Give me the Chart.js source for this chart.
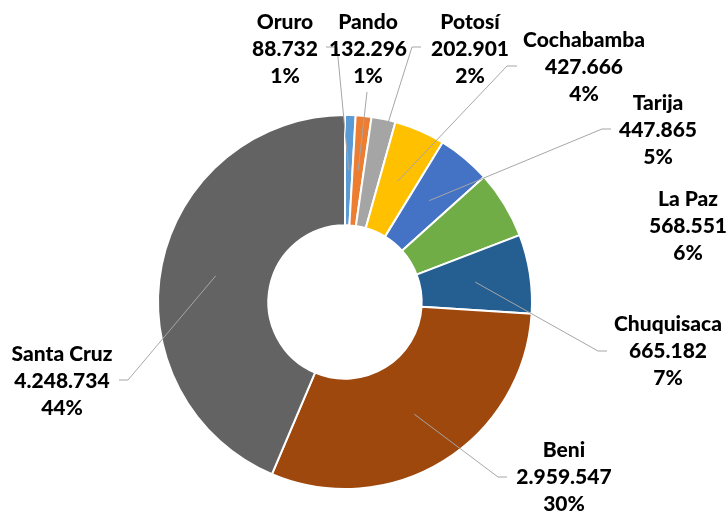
<!DOCTYPE html>
<html>
<head>
<meta charset="utf-8">
<script src="https://cdn.jsdelivr.net/npm/chart.js@4"></script>
<style>
    html, body { margin: 0; padding: 0; background: #ffffff; }
    canvas { display: block; }
</style>
</head>
<body>
<canvas id="chart" width="728" height="512"></canvas>
<script>
const departments = ['Oruro', 'Pando', 'Potosí', 'Cochabamba', 'Tarija', 'La Paz', 'Chuquisaca', 'Beni', 'Santa Cruz'];
const population = [88732, 132296, 202901, 427666, 447865, 568551, 665182, 2959547, 4248734];
const sliceColors = ['#5B9BD5', '#ED7D31', '#A5A5A5', '#FFC000', '#4472C4', '#70AD47', '#255E91', '#9E480E', '#636363'];

// where each label sits: text centre x, first line y, leader elbow (x, y, end x) or null
const labelPlaces = [
    {x: 285, y: 22, elbow: [337, 47, 326]},
    {x: 368, y: 22, elbow: [367, 92, 367]},
    {x: 470, y: 22, elbow: [412, 47, 421]},
    {x: 584, y: 40, elbow: [507, 66, 517]},
    {x: 658, y: 103, elbow: [602, 129, 611]},
    {x: 688, y: 199, elbow: null},
    {x: 668, y: 324, elbow: [598, 351, 607]},
    {x: 564, y: 450, elbow: [498, 477, 507]},
    {x: 62, y: 354, elbow: [128, 380, 119]},
];

function formatNumber(n) {
    return String(n).replace(/\B(?=(\d{3})+(?!\d))/g, '.');
}

const labelPlugin = {
    id: 'sliceLabels',
    afterDatasetsDraw(chart) {
        const ctx = chart.ctx;
        const meta = chart.getDatasetMeta(0);
        const total = population.reduce((a, b) => a + b, 0);
        ctx.save();
        meta.data.forEach((arc, i) => {
            const place = labelPlaces[i];
            if (place.elbow) {
                const p = arc.getCenterPoint();
                ctx.strokeStyle = '#A6A6A6';
                ctx.lineWidth = 1;
                ctx.beginPath();
                ctx.moveTo(p.x, p.y);
                ctx.lineTo(place.elbow[0], place.elbow[1]);
                ctx.lineTo(place.elbow[2], place.elbow[1]);
                ctx.stroke();
            }
        });
        ctx.fillStyle = '#000000';
        ctx.font = '900 21px Lato';
        ctx.textAlign = 'center';
        ctx.textBaseline = 'middle';
        meta.data.forEach((arc, i) => {
            const place = labelPlaces[i];
            const pct = Math.round(population[i] / total * 100) + '%';
            const lines = [departments[i], formatNumber(population[i]), pct];
            lines.forEach((t, k) => ctx.fillText(t, place.x, place.y + k * 27));
        });
        ctx.restore();
    }
};

new Chart(document.getElementById('chart'), {
    type: 'doughnut',
    data: {
        labels: departments,
        datasets: [{
            data: population,
            backgroundColor: sliceColors,
            borderColor: '#ffffff',
            borderWidth: 2,
            hoverOffset: 0,
        }],
    },
    options: {
        responsive: false,
        animation: false,
        cutout: '41%',
        layout: {
            padding: {top: 114, bottom: 22, left: 157, right: 195},
        },
        plugins: {
            legend: {display: false},
            tooltip: {enabled: false},
        },
    },
    plugins: [labelPlugin],
});
</script>
</body>
</html>
